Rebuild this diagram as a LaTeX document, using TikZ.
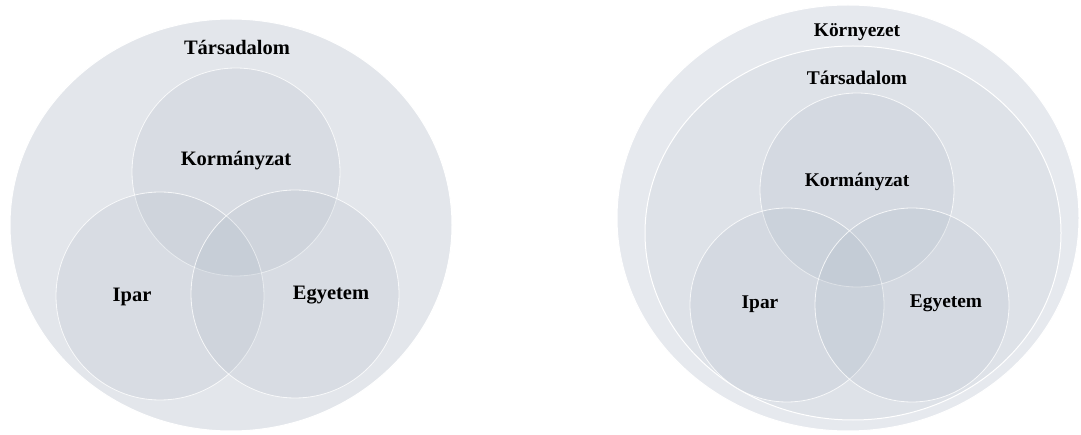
\documentclass[tikz,border=0pt]{standalone}
\usepackage{fontspec}
\setmainfont{Liberation Serif}
\definecolor{hatter}{HTML}{E3E6EB}
\definecolor{kulso}{HTML}{E6E9EE}
\definecolor{belso}{HTML}{DEE2E8}
\definecolor{kekes}{HTML}{A9B5C3}
\tikzset{
  kor/.style={fill=kekes, fill opacity=0.19, draw=white, draw opacity=0.8, line width=0.8pt},
  felirat/.style={font=\bfseries\fontsize{20.5}{24}\selectfont},
  kisfelirat/.style={font=\bfseries\fontsize{19.4}{23}\selectfont}
}

\begin{document}
\begin{tikzpicture}[x=1pt, y=-1pt]
  \useasboundingbox (0,0) rectangle (1081,435);
  % bal oldal: Társadalom
  \filldraw[fill=hatter, draw=white, line width=1pt] (231,225) ellipse [x radius=221, y radius=206];
  \foreach \x/\y in {236/172, 160/296, 295/294} {
    \draw[kor] (\x,\y) circle [radius=104];
  }
  \node[felirat] (tars1) at (237,47) {Társadalom};
  \node[felirat] (korm1) at (236,161) {Kormányzat};
  \node[felirat] (ipar1) at (132,297) {Ipar};
  \node[felirat] (egy1) at (331,295) {Egyetem};
  % jobb oldal: Környezet
  \filldraw[fill=kulso, draw=white, line width=1pt] (848,218) ellipse [x radius=231, y radius=213];
  \filldraw[fill=belso, draw=white, line width=1pt] (853,233) ellipse [x radius=208, y radius=187];
  \foreach \x/\y in {857/190, 787/305, 912/305} {
    \draw[kor] (\x,\y) circle [radius=97];
  }
  \node[kisfelirat] (korny) at (857,32) {Környezet};
  \node[kisfelirat] (tars2) at (857,78) {Társadalom};
  \node[kisfelirat] (korm2) at (857,182) {Kormányzat};
  \node[kisfelirat] (ipar2) at (760,304) {Ipar};
  \node[kisfelirat] (egy2) at (946,303) {Egyetem};
\end{tikzpicture}
\end{document}
